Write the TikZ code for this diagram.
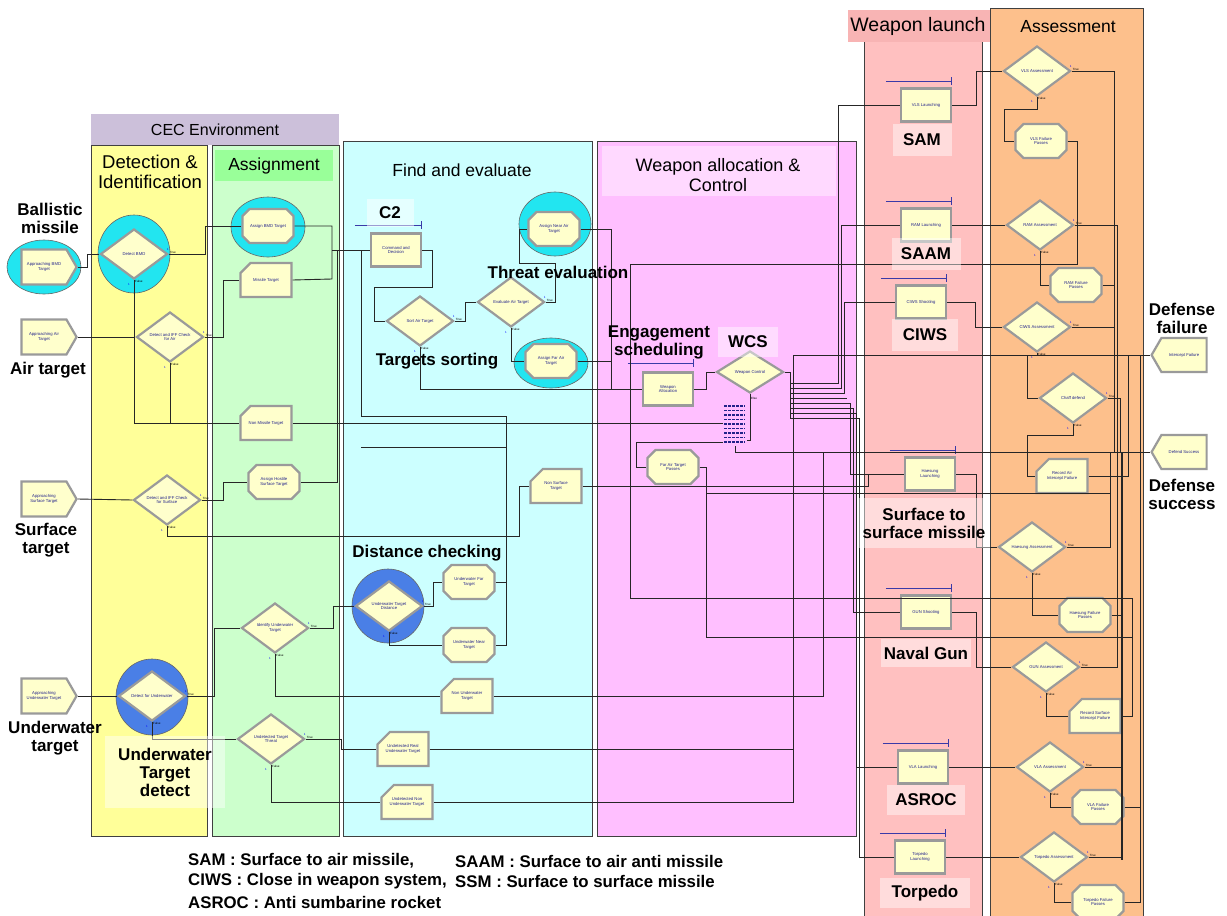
\documentclass[tikz,border=0pt]{standalone}
\usepackage{fontspec}
\setmainfont{Liberation Sans}
\usetikzlibrary{shapes.geometric,shapes.misc,shapes.symbols,arrows.meta}
\definecolor{laneY}{HTML}{FFFF99}
\definecolor{laneG}{HTML}{CCFFCC}
\definecolor{headG}{HTML}{99FF99}
\definecolor{laneC}{HTML}{CCFFFF}
\definecolor{laneP}{HTML}{FFBFFF}
\definecolor{headP}{HTML}{FFD9FF}
\definecolor{laneR}{HTML}{FFC0C0}
\definecolor{headR}{HTML}{F8B4B4}
\definecolor{laneO}{HTML}{FDC08C}
\definecolor{headL}{HTML}{CCC0DA}
\definecolor{nodeF}{HTML}{FFFFCC}
\definecolor{nodeB}{HTML}{9A9A9A}
\definecolor{txtB}{HTML}{22228A}
\definecolor{hiC}{HTML}{22E5F0}
\definecolor{hiB}{HTML}{4A7FE6}
\definecolor{barB}{HTML}{3A3AA8}
\tikzset{
 lanebox/.style={draw=black!75,line width=0.8pt},
 blk/.style={draw=nodeB,line width=2.2pt,fill=nodeF,text=txtB,font=\fontsize{4.2}{4.8}\selectfont,align=center,inner sep=1pt},
 createnode/.style={blk,signal,signal to=east,signal pointer angle=120,minimum width=55pt,minimum height=35pt},
 disposenode/.style={blk,signal,signal to=west,signal pointer angle=120,minimum width=55pt,minimum height=34pt},
 decidenode/.style={blk,diamond,aspect=1.34,minimum width=67pt,minimum height=50pt,inner sep=0pt},
 procnode/.style={blk,rectangle,minimum width=50pt,minimum height=33pt},
 assignnode/.style={blk,chamfered rectangle,chamfered rectangle xsep=4pt,chamfered rectangle ysep=4pt,minimum width=51pt,minimum height=34pt},
 recordnode/.style={blk,chamfered rectangle,chamfered rectangle corners=north west,chamfered rectangle xsep=7pt,chamfered rectangle ysep=7pt,minimum width=51pt,minimum height=34pt},
 hilite/.style={ellipse,draw=black!60,line width=0.6pt,inner sep=0pt},
 conn/.style={draw=black!85,line width=0.9pt},
 lbl/.style={font=\bfseries\fontsize{17}{18}\selectfont,align=center,text=black,inner sep=1pt},
 lblbox/.style={lbl,fill=white,fill opacity=0.45,text opacity=1,inner sep=2pt},
 hdr/.style={font=\fontsize{17.5}{19}\selectfont,align=center,text=black},
 legend/.style={font=\bfseries\fontsize{16.8}{17}\selectfont,anchor=west,inner sep=0pt},
 tiny/.style={font=\fontsize{3}{3}\selectfont,inner sep=0pt},
 barline/.style={draw=barB,line width=1.3pt,-{Bar[width=8pt,line width=1.3pt]}},
}
\newcommand{\tfmarks}[1]{%
 \node[tiny,anchor=south west] (#1-t) at ([xshift=1pt,yshift=0.5pt]#1.east) {True};
 \node[tiny,anchor=north west] (#1-f) at ([xshift=1pt,yshift=-0.5pt]#1.south) {False};
 \node[tiny,text=blue] (#1-n1) at ([xshift=-1pt,yshift=5pt]#1.east) {1};
 \node[tiny,text=blue] (#1-n2) at ([xshift=-5pt,yshift=-4pt]#1.south) {1};}
\begin{document}
\begin{tikzpicture}[x=1pt,y=-1pt]
\useasboundingbox (0,0) rectangle (1227,916);
\fill[white] (0,0) rectangle (1227,916);
% lanes
\fill[headL] (91,114) rectangle (339,145);
\draw[lanebox,fill=laneY] (91,145) rectangle (207,836);
\draw[lanebox,fill=laneG] (212,145) rectangle (339,836);
\fill[headG] (215,150) rectangle (333,181);
\draw[lanebox,fill=laneC] (343,141) rectangle (592,836);
\draw[lanebox,fill=laneP] (597,141) rectangle (856,836);
\fill[headP] (602,146) rectangle (836,196);
\draw[lanebox,fill=laneR] (864,10) rectangle (982,925);
\fill[headR] (848,10) rectangle (990,42);
\draw[lanebox,fill=laneO] (990,8) rectangle (1143,925);
% headers
\node[hdr,font=\fontsize{16}{17}\selectfont] (hcec) at (215,130) {CEC Environment};
\node[hdr,font=\fontsize{18.5}{20}\selectfont] (hdet) at (150,172) {Detection \&\\Identification};
\node[hdr] (hasg) at (274,166) {Assignment};
\node[hdr] (hfind) at (462,170) {Find and evaluate};
\node[hdr,font=\fontsize{18}{19.5}\selectfont] (hwac) at (718,175) {Weapon allocation \&\\Control};
\node[hdr,font=\fontsize{19.5}{20}\selectfont] (hwl) at (918,26) {Weapon launch};
\node[hdr] (hass) at (1068,27) {Assessment};
% highlights
\node[hilite,fill=hiC,minimum width=74pt,minimum height=54pt] (h1) at (44,267) {};
\node[hilite,fill=hiC,minimum width=72pt,minimum height=78pt] (h2) at (134,254) {};
\node[hilite,fill=hiC,minimum width=74pt,minimum height=60pt] (h3) at (268,227) {};
\node[hilite,fill=hiC,minimum width=72pt,minimum height=64pt] (h4) at (555,224) {};
\node[hilite,fill=hiC,minimum width=74pt,minimum height=50pt] (h5) at (551,363) {};
\node[hilite,fill=hiB,minimum width=72pt,minimum height=76pt] (h6) at (152,697) {};
\node[hilite,fill=hiB,minimum width=72pt,minimum height=74pt] (h7) at (388,606) {};
% nodes: detection
\node[createnode] (abmd) at (44,267) {Approaching BMD\\Target};
\node[createnode] (aair) at (44,337) {Approaching Air\\Target};
\node[createnode] (asurf) at (44,499) {Approaching\\Surface Target};
\node[createnode] (auw) at (44,696) {Approaching\\Underwater Target};
\node[decidenode] (dbmd) at (134,254) {Detect BMD};
\node[decidenode] (dair) at (170,337) {Detect and IFF Check\\for Air};
\node[decidenode] (dsurf) at (167,500) {Detect and IFF Check\\for Surface};
\node[decidenode] (duw) at (152,696) {Detect for Underwater};
% assignment
\node[assignnode] (asbmd) at (268,226) {Assign BMD Target};
\node[recordnode] (mt) at (266,280) {Missile Target};
\node[recordnode] (nmt) at (266,423) {Non Missile Target};
\node[assignnode] (ahs) at (274,482) {Assign Hostile\\Surface Target};
\node[decidenode] (iuw) at (275,628) {Identify Underwater\\Target};
\node[decidenode] (utt) at (271,739) {Undetected Target\\Threat};
% find and evaluate
\node[procnode] (cd) at (396,250) {Command and\\Decision};
\node[decidenode] (sat) at (420,321) {Sort Air Target};
\node[decidenode] (eat) at (511,302) {Evaluate Air Target};
\node[assignnode] (anat) at (554,229) {Assign Near Air\\Target};
\node[assignnode] (afat) at (551,361) {Assign Far Air\\Target};
\node[recordnode] (nst) at (556,486) {Non Surface\\Target};
\node[decidenode] (utd) at (389,606) {Underwater Target\\Distance};
\node[assignnode] (uft) at (469,582) {Underwater Far\\Target};
\node[assignnode] (unt) at (469,645) {Underwater Near\\Target};
\node[recordnode] (nut) at (467,696) {Non Underwater\\Target};
\node[recordnode] (urut) at (403,749) {Undetected Real\\Underwater Target};
\node[recordnode] (unut) at (407,802) {Undetected Non\\Underwater Target};
% weapon allocation
\node[procnode] (wa) at (668,389) {Weapon\\Allocation};
\node[decidenode,minimum height=42pt] (wc) at (750,372) {Weapon Control};
\node[assignnode] (fatp) at (673,467) {Far Air Target\\Passes};
\node[minimum width=24pt,minimum height=44pt,inner sep=0pt] (stack) at (735,424) {};
\foreach \k in {0,...,8}{\draw[txtB,line width=1.1pt,dash pattern=on 3pt off 1pt] (724,406+4.5*\k) -- (745,406+4.5*\k);}
% weapon launch
\node[procnode] (vls) at (926,105) {VLS Launching};
\node[procnode] (ram) at (926,225) {RAM Launching};
\node[procnode] (ciws) at (921,302) {CIWS Shooting};
\node[procnode] (hae) at (930,474) {Haesung\\Launching};
\node[procnode] (gun) at (926,612) {GUN Shooting};
\node[procnode] (vla) at (923,767) {VLA Launching};
\node[procnode] (torp) at (920,857) {Torpedo\\Launching};
% assessment
\node[decidenode] (vlsa) at (1037,71) {VLS Assessment};
\node[assignnode] (vlsf) at (1041,141) {VLS Failure\\Passes};
\node[decidenode] (rama) at (1040,225) {RAM Assessment};
\node[assignnode] (ramf) at (1076,285) {RAM Failure\\Passes};
\node[decidenode] (ciwsa) at (1037,327) {CIWS Assessment};
\node[decidenode] (chaff) at (1073,398) {Chaff defend};
\node[recordnode] (rai) at (1062,476) {Record Air\\Intercept Failure};
\node[decidenode] (haea) at (1032,547) {Haesung Assessment};
\node[assignnode] (haef) at (1085,615) {Haesung Failure\\Passes};
\node[decidenode] (guna) at (1046,667) {GUN Assessment};
\node[recordnode] (rsi) at (1095,716) {Record Surface\\Intercept Failure};
\node[decidenode] (vlaa) at (1050,767) {VLA Assessment};
\node[assignnode] (vlaf) at (1098,807) {VLA Failure\\Passes};
\node[decidenode] (torpa) at (1054,857) {Torpedo Assessment};
\node[assignnode] (torpf) at (1098,902) {Torpedo Failure\\Passes};
\node[disposenode] (ifail) at (1184,355) {Intercept Failure};
\node[disposenode] (dsucc) at (1184,452) {Defend Success};
% true/false marks
\foreach \d in {dbmd,dair,dsurf,duw,iuw,utt,sat,eat,utd,vlsa,rama,ciwsa,chaff,haea,guna,vlaa,torpa}{\tfmarks{\d}}
\node[tiny,anchor=south west] (wc-t) at ([xshift=1pt,yshift=-6pt]wc.south) {Else};
% blue bars
\draw[barline] ([xshift=-15pt,yshift=7pt]cd.north west) -- ([yshift=7pt]cd.north east);
\draw[barline] ([xshift=-14pt,yshift=8pt]wa.north west) -- ([yshift=8pt]wa.north east);
\foreach \b in {vls,ram,ciws,hae,gun,vla,torp}{\draw[barline] ([xshift=-14pt,yshift=6pt]\b.north west) -- ([yshift=6pt]\b.north east);}
% connectors: detection and assignment
\draw[conn] (abmd.east) -- (87,267) |- (dbmd.west);
\draw[conn] (dbmd.east) -- (205,254) |- (asbmd.west);
\draw[conn] (dbmd.south) |- (nmt.west);
\draw[conn] (dair.south) -- (dair.south |- nmt.west);
\draw[conn] (aair.east) -- (dair.west);
\draw[conn] (dair.east) -- (223,337) |- (mt.west);
\draw[conn] (asbmd.east) -| (332,279) -- (mt.east);
\draw[conn] (ahs.east) -| (337,250);
\draw[conn] (332,250) -- (cd.west);
\draw[conn] (uft.east) -| (506,416) -| (361,250);
\draw[conn] (unt.east) -| (506,582);
\draw[conn] (361,447) -- (506,447);
\draw[conn] (nmt.east) -- (nmt.east -| stack.west);
\draw[conn] (asurf.east) -- (dsurf.west);
\draw[conn] (dsurf.east) -- (223,500) |- (ahs.west);
\draw[conn] (dsurf.south) |- (519,536) |- (nst.west);
\draw[conn] (auw.east) -- (duw.west);
\draw[conn] (duw.east) -- (214,696) |- (iuw.west);
\draw[conn] (duw.south) |- (utt.west);
\draw[conn] (iuw.east) -- (333,628) |- (utd.west);
\draw[conn] (iuw.south) |- (nut.west);
\draw[conn] (utt.east) -- (341,739) |- (urut.west);
\draw[conn] (utt.south) |- (unut.west);
\draw[conn] (utd.east) -- (433,606) |- (uft.west);
\draw[conn] (utd.south) |- (unt.west);
% find and evaluate
\draw[conn] (cd.east) -- (432,250) -- (432,287) -- (374,287) |- (sat.west);
\draw[conn] (sat.east) -- (465,321) |- (eat.west);
\draw[conn] (eat.east) -- (555,302) -- (555,263) -- (519,263) |- (anat.west);
\draw[conn] (eat.south) |- (afat.west);
\draw[conn] (sat.south) |- (wa.west);
\draw[conn] (anat.east) -| (611,389);
\draw[conn] (afat.east) -- (611,361);
% weapon allocation
\draw[conn] (wa.east) -- (706,389) |- (wc.west);
\draw[conn] (wc.south) -- (750,440) -- (747,440);
\draw[conn] (723,442) -- (636,442) |- (fatp.west);
\draw[conn] (fatp.east) -- (706,467) -- (706,637) -- (1132,637);
\draw[conn] (706,493) -- (1110,493);
\draw[conn] (vlsf.east) -| (1077,264) -- (630,264) -- (630,598) -- (1132,598) |- (rsi.east);
\draw[conn] (stack.south) |- (dsucc.west);
\draw[conn] (nut.east) -| (823,452);
\draw[conn] (urut.east) -| (793,355) -- (ifail.west);
\draw[conn] (unut.east) -| (793,748);
\draw[conn] (nst.east) -- (868,486) |- (hae.west);
\draw[conn] (wc.east) -- (790,372) -- (790,418);
\draw[conn] (790,383) -- (838,383) |- (vls.west);
\draw[conn] (790,388) -- (841,388) |- (ram.west);
\draw[conn] (790,393) -- (844,393) |- (ciws.west);
\draw[conn] (790,398) -- (847,398);
\draw[conn] (790,403) -- (850,403) |- (hae.west);
\draw[conn] (790,408) -- (853,408) |- (gun.west);
\draw[conn] (790,413) -- (856,413) |- (vla.west);
\draw[conn] (790,418) -- (859,418) |- (torp.west);
% launch to assessment
\draw[conn] (vls.east) -- (976,105) |- (vlsa.west);
\draw[conn] (ram.east) -- (rama.west);
\draw[conn] (ciws.east) -- (975,302) |- (ciwsa.west);
\draw[conn] (hae.east) -- (976,474) |- (haea.west);
\draw[conn] (gun.east) -- (976,612) |- (guna.west);
\draw[conn] (vla.east) -- (vlaa.west);
\draw[conn] (torp.east) -- (torpa.west);
% assessment
\draw[conn] (vlsa.east) -| (1114,452);
\draw[conn] (vlsa.south) -- (1037,109) -| (1004,141) -- (vlsf.west);
\draw[conn] (rama.east) -| (1117,452);
\draw[conn] (rama.south) |- (ramf.west);
\draw[conn] (ramf.east) -- (1114,285);
\draw[conn] (ciwsa.east) -- (1114,327);
\draw[conn] (ciwsa.south) -- (1037,355) -- (1027,355) |- (chaff.west);
\draw[conn] (chaff.east) -| (1120,452);
\draw[conn] (chaff.south) -- (1073,435) -| (1027,476) -- (rai.west);
\draw[conn] (rai.east) -- (1128,476) -- (1128,355);
\draw[conn] (haea.east) -| (1110,452);
\draw[conn] (haea.south) |- (haef.west);
\draw[conn] (haef.east) -- (1122,615);
\draw[conn] (guna.east) -| (1117,452);
\draw[conn] (guna.south) |- (rsi.west);
\draw[conn] (vlaa.east) -- (1122,767);
\draw[conn] (vlaa.south) |- (vlaf.west);
\draw[conn] (vlaf.east) -- (1140,807);
\draw[conn] (torpa.east) -- (1122,857);
\draw[conn] (torpa.south) |- (torpf.west);
\draw[conn] (torpf.east) -| (1140,355);
\draw[conn,line width=2pt] (1122,452) -- (1122,860);
% labels
\node[lbl] (lbal) at (50,218) {Ballistic\\missile};
\node[lbl] (lair) at (48,370) {Air target};
\node[lbl] (lsurf) at (46,540) {Surface\\target};
\node[lbl] (luw) at (55,738) {Underwater\\target};
\node[lblbox,minimum width=120pt,minimum height=72pt] (luwd) at (165,772) {Underwater\\Target\\detect};
\node[lbl,fill=white,fill opacity=0.5,text opacity=1,minimum width=47pt,minimum height=28pt] (lc2) at (390,213) {C2};
\node[lbl] (lts) at (437,361) {Targets sorting};
\node[lbl] (lte) at (558,272) {Threat evaluation};
\node[lbl] (ldc) at (427,553) {Distance checking};
\node[lbl] (les) at (659,342) {Engagement\\scheduling};
\node[lblbox,minimum width=60pt,minimum height=30pt] (lwcs) at (748,342) {WCS};
\node[lblbox,minimum width=59pt,minimum height=32pt] (lsam) at (922,140) {SAM};
\node[lblbox,minimum width=69pt,minimum height=32pt] (lsaam) at (926,254) {SAAM};
\node[lblbox,minimum width=66pt,minimum height=32pt] (lciws) at (925,335) {CIWS};
\node[lblbox,minimum width=132pt,minimum height=50pt] (lssm) at (924,523) {Surface to\\surface missile};
\node[lblbox,minimum width=90pt,minimum height=28pt] (lng) at (926,653) {Naval Gun};
\node[lblbox,minimum width=78pt,minimum height=30pt] (lasroc) at (926,800) {ASROC};
\node[lblbox,minimum width=90pt,minimum height=30pt] (ltorp) at (925,893) {Torpedo};
\node[lbl] (ldf) at (1182,318) {Defense\\failure};
\node[lbl] (lds) at (1182,494) {Defense\\success};
% legend
\node[legend] (leg1) at (188,861) {SAM : Surface to air missile,};
\node[legend] (leg2) at (188,881) {CIWS : Close in weapon system,};
\node[legend] (leg3) at (188,902) {ASROC : Anti sumbarine rocket};
\node[legend] (leg4) at (455,861) {SAAM : Surface to air anti missile};
\node[legend] (leg5) at (455,881) {SSM : Surface to surface missile};
\end{tikzpicture}
\end{document}
